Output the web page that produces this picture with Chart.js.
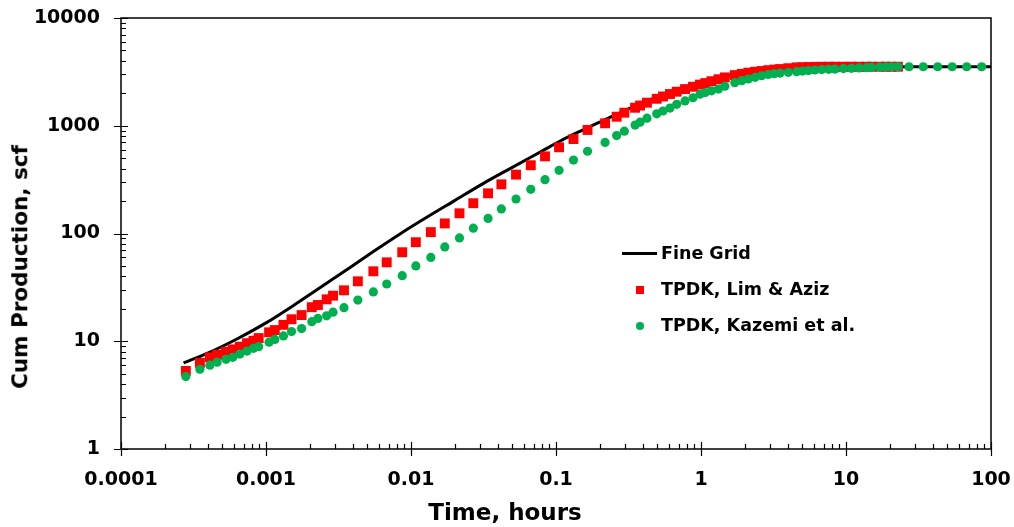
<!DOCTYPE html>
<html>
<head>
<meta charset="utf-8">
<script src="https://cdn.jsdelivr.net/npm/chart.js@4.4.0/dist/chart.umd.min.js"></script>
<style>
  body { margin: 0; background: #fff; }
  #wrap { position: relative; width: 1014px; height: 527px; }
  .txt { position: absolute; white-space: nowrap; font-family: "DejaVu Sans", sans-serif; font-weight: bold; color: #000; line-height: 1; }
</style>
</head>
<body>
<div id="wrap">
  <canvas id="myChart"></canvas>
  <div id="legend"></div>
</div>
<script>
// time steps, hours (shared by both TPDK runs)
const times = [
  0.00028, 0.00035, 0.00041, 0.00046, 0.00053, 0.00059, 0.00066, 0.00074, 0.00082, 0.00089,
  0.00105, 0.00115, 0.00132, 0.0015, 0.00176, 0.00207, 0.00228, 0.00262, 0.0029, 0.00345,
  0.0043, 0.0055, 0.0068, 0.0087, 0.0108, 0.0137, 0.0171, 0.0216, 0.0269, 0.034,
  0.042, 0.053, 0.067, 0.084, 0.105, 0.132, 0.165, 0.218, 0.262, 0.296,
  0.351, 0.38, 0.424, 0.495, 0.547, 0.611, 0.68, 0.776, 0.881, 0.984,
  1.07, 1.18, 1.32, 1.46, 1.71, 1.91, 2.12, 2.36, 2.62, 2.91,
  3.2, 3.51, 4.0, 4.57, 5.0, 5.5, 6.1, 6.8, 7.6, 8.4,
  9.6, 10.9, 12.3, 13.9, 15, 17.1, 18.8, 20.6, 22.8, 27.2,
  34.1, 42.9, 54, 68, 86.3
];

// cum production, scf
const limAziz = [
  5.3, 6.3, 7.1, 7.5, 8.0, 8.4, 8.9, 9.6, 10.1, 10.7,
  12.1, 12.7, 14.2, 16.0, 17.5, 20.7, 21.7, 24.5, 26.5, 29.7,
  36, 44.6, 54, 67, 83, 103, 124, 154, 191, 236,
  286, 352, 430, 520, 631, 753, 914, 1054, 1213, 1322,
  1469, 1540, 1637, 1780, 1870, 1970, 2070, 2190, 2300, 2410,
  2490, 2590, 2700, 2810, 2950, 3030, 3110, 3170, 3220, 3280,
  3320, 3360, 3420, 3480, 3495, 3510, 3520, 3525, 3530, 3530,
  3530, 3530, 3530, 3530, 3530, 3530, 3530, 3530, 3530
];

const kazemi = [
  4.7, 5.5, 6.0, 6.4, 6.8, 7.1, 7.6, 8.1, 8.6, 8.9,
  9.8, 10.4, 11.2, 12.3, 13.1, 15.2, 16.3, 17.2, 18.6, 20.5,
  24.1, 28.7, 34, 40.6, 50, 60, 75, 91, 112, 138,
  169, 209, 257, 316, 386, 480, 580, 700, 810, 890,
  1015, 1080, 1175, 1290, 1370, 1460, 1580, 1700, 1820, 1960,
  2030, 2110, 2190, 2330, 2510, 2620, 2715, 2815, 2910, 2990,
  3040, 3080, 3130, 3175, 3215, 3250, 3290, 3320, 3340, 3360,
  3390, 3415, 3440, 3460, 3480, 3500, 3510, 3520, 3530, 3530,
  3530, 3530, 3530, 3530, 3530
];

// fine grid reference solution
const fineTimes = [0.00027, 0.0004, 0.00063, 0.001, 0.00167, 0.003, 0.0055, 0.0084, 0.0115, 0.02,
  0.0316, 0.05, 0.08, 0.107, 0.15, 0.2, 0.25, 0.35, 0.5, 0.7,
  1, 1.5, 2, 3, 5, 8, 15, 100];
const fineGrid = [6.3, 7.8, 10.5, 14.8, 23, 39, 68, 99, 129, 202,
  292, 411, 582, 722, 902, 1080, 1240, 1520, 1850, 2130,
  2480, 2880, 3110, 3330, 3490, 3525, 3530, 3530];

const seriesNames = ["Fine Grid", "TPDK, Lim & Aziz", "TPDK, Kazemi et al."];
const xTickValues = [0.0001, 0.001, 0.01, 0.1, 1, 10, 100];
const xTickLabels = ["0.0001", "0.001", "0.01", "0.1", "1", "10", "100"];
const yTickValues = [1, 10, 100, 1000, 10000];
const yTickLabels = ["1", "10", "100", "1000", "10000"];
const xTitle = "Time, hours";
const yTitle = "Cum Production, scf";

const RED = "#ff0000";
const GREEN = "#00b050";
const FONT = "'DejaVu Sans', sans-serif";

function pts(xs, ys) {
  return ys.map((v, i) => ({ x: xs[i], y: v }));
}

// box + log tick marks like the spreadsheet chart
const axisBox = {
  id: "axisBox",
  beforeDatasetsDraw(chart) {
    const { ctx, chartArea: a, scales } = chart;
    const x = scales.x, y = scales.y;
    ctx.save();
    ctx.strokeStyle = "#000";
    ctx.lineWidth = 1.5;
    ctx.strokeRect(a.left, a.top, a.right - a.left, a.bottom - a.top);
    ctx.beginPath();
    for (let e = -4; e <= 2; e++) {
      for (let m = 1; m <= 9; m++) {
        const v = m * Math.pow(10, e);
        if (v > 100.0001) break;
        const px = Math.round(x.getPixelForValue(v)) + 0.5;
        if (m === 1) { ctx.moveTo(px, a.bottom - 7); ctx.lineTo(px, a.bottom + 7); }
        else { ctx.moveTo(px, a.bottom - 5); ctx.lineTo(px, a.bottom); }
      }
    }
    for (let e = 0; e <= 4; e++) {
      for (let m = 1; m <= 9; m++) {
        const v = m * Math.pow(10, e);
        if (v > 10000.001) break;
        const py = Math.round(y.getPixelForValue(v)) + 0.5;
        if (m === 1) { ctx.moveTo(a.left - 7, py); ctx.lineTo(a.left + 7, py); }
        else { ctx.moveTo(a.left, py); ctx.lineTo(a.left + 5, py); }
      }
    }
    ctx.lineWidth = 1.2;
    ctx.stroke();
    ctx.restore();
  }
};

new Chart("myChart", {
  type: "scatter",
  data: {
    datasets: [
      {
        label: seriesNames[0],
        data: pts(fineTimes, fineGrid),
        showLine: true,
        borderColor: "#000",
        borderWidth: 3,
        pointRadius: 0,
        cubicInterpolationMode: "monotone",
        order: 3,
      },
      {
        label: seriesNames[1],
        data: pts(times, limAziz),
        pointStyle: "rect",
        pointRadius: 7,
        backgroundColor: RED,
        borderWidth: 0,
        order: 2,
      },
      {
        label: seriesNames[2],
        data: pts(times, kazemi),
        pointStyle: "circle",
        pointRadius: 4.6,
        backgroundColor: GREEN,
        borderWidth: 0,
        order: 1,
      },
    ],
  },
  options: {
    responsive: true,
    maintainAspectRatio: false,
    animation: false,
    layout: { padding: { top: 18, right: 23, left: 0, bottom: 0 } },
    plugins: { legend: { display: false }, tooltip: { enabled: false } },
    scales: {
      x: {
        type: "logarithmic",
        min: 0.0001,
        max: 100,
        grid: { display: false, drawTicks: false },
        border: { display: false },
        afterBuildTicks: (s) => { s.ticks = xTickValues.map((v) => ({ value: v })); },
        afterFit: (s) => { s.height = 78; s.paddingLeft = 0; s.paddingRight = 0; },
        ticks: {
          autoSkip: false,
          maxRotation: 0,
          padding: 20,
          color: "#000",
          font: { family: FONT, size: 19, weight: "bold" },
          callback: (v, i) => xTickLabels[i],
        },
      },
      y: {
        type: "logarithmic",
        min: 1,
        max: 10000,
        grid: { display: false, drawTicks: false },
        border: { display: false },
        afterBuildTicks: (s) => { s.ticks = yTickValues.map((v) => ({ value: v })); },
        afterFit: (s) => { s.width = 121; s.paddingTop = 0; s.paddingBottom = 0; },
        ticks: {
          autoSkip: false,
          padding: 21,
          color: "#000",
          font: { family: FONT, size: 19, weight: "bold" },
          callback: (v, i) => yTickLabels[i],
        },
      },
    },
  },
  plugins: [axisBox],
});

// axis titles and legend sit where the original put them
const legend = document.getElementById("legend");
legend.innerHTML =
  '<div class="txt" style="left:505px;top:512px;font-size:23px;transform:translate(-50%,-50%)">' + xTitle + '</div>' +
  '<div class="txt" style="left:20px;top:267px;font-size:21.5px;transform:translate(-50%,-50%) rotate(-90deg)">' + yTitle + '</div>' +
  '<div style="position:absolute;left:622px;top:252px;width:35px;height:3px;background:#000"></div>' +
  '<div class="txt" style="left:661px;top:254px;font-size:17.5px;transform:translateY(-50%)">' + seriesNames[0] + '</div>' +
  '<div style="position:absolute;left:636px;top:286px;width:8px;height:8px;background:' + RED + '"></div>' +
  '<div class="txt" style="left:661px;top:290px;font-size:17.5px;transform:translateY(-50%)">' + seriesNames[1].replace("&", "&amp;") + '</div>' +
  '<div style="position:absolute;left:636px;top:322px;width:8px;height:8px;border-radius:50%;background:' + GREEN + '"></div>' +
  '<div class="txt" style="left:661px;top:326px;font-size:17.5px;transform:translateY(-50%)">' + seriesNames[2] + '</div>';
</script>
</body>
</html>
